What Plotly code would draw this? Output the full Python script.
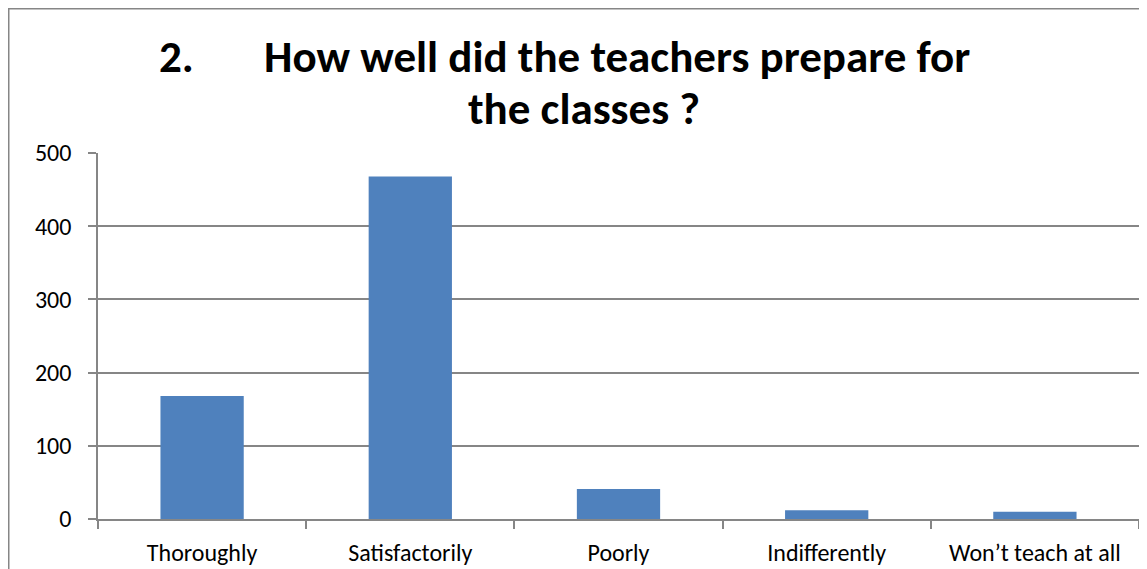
import plotly.graph_objects as go

categories = ["Thoroughly", "Satisfactorily", "Poorly", "Indifferently", "Won\u2019t teach at all"]
values = [168, 468, 41, 12, 10]
y_ticks = [0, 100, 200, 300, 400, 500]
title_num = "2."
title_line1 = "How well did the teachers prepare for"
title_line2 = "the classes ?"

# page body has an 8px margin, so the figure sits at (8, 8) in the window
W, H = 1139, 561
ml, mr, mt, mb = 90, 8, 145, 50
pw, ph = W - ml - mr, H - mt - mb

font_fam = "Carlito, Calibri, Lato, 'Open Sans', sans-serif"
grey = "#868686"


def px(x):
    return (x - ml) / pw


def py(y):
    return 1 - (y - mt) / ph


fig = go.Figure(go.Bar(
    x=categories, y=values,
    marker=dict(color="#4F81BD", line=dict(width=0)),
    width=0.4,
))

fig.update_layout(
    width=W, height=H,
    margin=dict(l=ml, r=mr, t=mt, b=mb),
    paper_bgcolor="white", plot_bgcolor="white",
    showlegend=False,
    font=dict(family=font_fam, size=24, color="black"),
)

fig.update_xaxes(
    automargin=False,
    showgrid=False, showline=True, linecolor=grey, linewidth=1.5,
    ticks="outside", ticklen=8, tickcolor=grey, tickwidth=1.5,
    tickson="boundaries", ticklabelstandoff=11,
    tickfont=dict(family=font_fam, size=24, color="black"),
)
fig.update_yaxes(
    automargin=False,
    range=[0, 500], tickvals=y_ticks,
    showgrid=True, gridcolor=grey, gridwidth=1.5,
    showline=True, linecolor=grey, linewidth=1.5,
    ticks="outside", ticklen=8, tickcolor=grey, tickwidth=1.5,
    ticklabelstandoff=12,
    tickfont=dict(family=font_fam, size=24, color="black"),
    zeroline=False,
)

tfont = dict(family=font_fam, size=45, color="black")
fig.add_annotation(text="<b>" + title_num + "</b>", xref="paper", yref="paper",
                   x=px(149), y=py(48), xanchor="left", yanchor="middle",
                   showarrow=False, font=tfont)
fig.add_annotation(text="<b>" + title_line1 + "</b>", xref="paper", yref="paper",
                   x=px(254), y=py(48), xanchor="left", yanchor="middle",
                   showarrow=False, font=tfont)
fig.add_annotation(text="<b>" + title_line2 + "</b>", xref="paper", yref="paper",
                   x=px(576), y=py(100), xanchor="center", yanchor="middle",
                   showarrow=False, font=tfont)

# outer chart border (only left and top edges visible in the crop)
fig.add_shape(type="rect", xref="paper", yref="paper",
              x0=px(0.75), x1=px(W + 20), y0=py(H + 20), y1=py(0.75),
              line=dict(color=grey, width=1.5), layer="below")

fig.write_html("out.html")
